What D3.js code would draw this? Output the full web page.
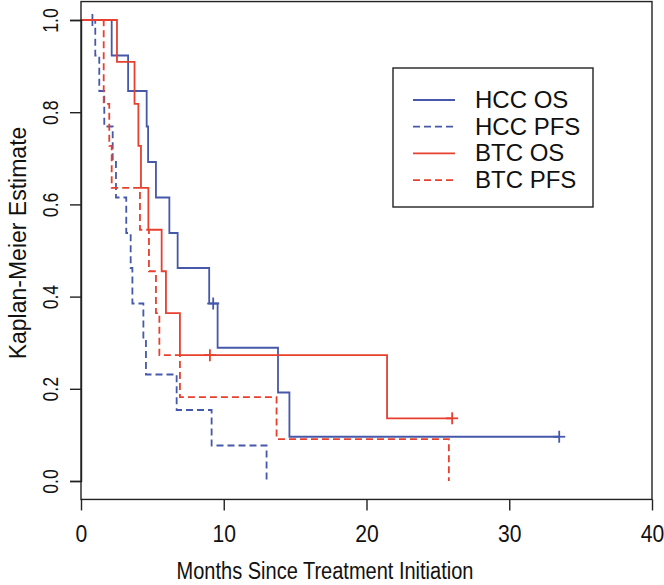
<!DOCTYPE html>
<html><head><meta charset="utf-8">
<script src="https://cdn.jsdelivr.net/npm/d3@7"></script>
<style>body{margin:0;background:#fff} svg{display:block}</style>
</head><body>
<svg id="c" width="664" height="585"></svg>
<script>
// ---- data ----
const seriesNames = ["HCC OS", "HCC PFS", "BTC OS", "BTC PFS"];

const hccOsTimes  = [2.15, 3.3, 4.6, 4.7, 5.25, 6.19, 6.77, 8.98, 9.57, 13.8, 14.6];
const hccOsSurv   = [0.923, 0.846, 0.769, 0.692, 0.615, 0.538, 0.462, 0.385, 0.289, 0.192, 0.096];
const hccOsCensor = [9.26, 33.5];

const hccPfsTimes  = [1.0, 1.28, 1.63, 2.22, 2.45, 3.17, 3.48, 3.6, 4.37, 4.55, 6.7, 9.15, 13.0];
const hccPfsSurv   = [0.923, 0.846, 0.769, 0.692, 0.615, 0.538, 0.462, 0.385, 0.308, 0.231, 0.154, 0.077, 0];
const hccPfsCensor = [0.8];

const btcOsTimes  = [2.52, 3.75, 4.02, 4.2, 4.72, 5.65, 5.95, 6.93, 21.44];
const btcOsSurv   = [0.909, 0.818, 0.727, 0.636, 0.545, 0.455, 0.364, 0.273, 0.136];
const btcOsCensor = [9.03, 26.0];

const btcPfsTimes  = [1.59, 1.98, 2.15, 4.13, 4.76, 5.25, 5.49, 6.93, 13.7, 25.77];
const btcPfsSurv   = [0.818, 0.727, 0.636, 0.545, 0.455, 0.364, 0.273, 0.182, 0.091, 0];
const btcPfsCensor = [];

const xTicks = [0, 10, 20, 30, 40];
const yTicks = [0, 0.2, 0.4, 0.6, 0.8, 1.0];
const xTitle = "Months Since Treatment Initiation";
const yTitle = "Kaplan-Meier Estimate";

// ---- drawing ----
const BLUE = "#4658aa", RED = "#e8402f";
const series = [
  {name: seriesNames[0], t: hccOsTimes,  s: hccOsSurv,  c: hccOsCensor,  color: BLUE, dash: null},
  {name: seriesNames[1], t: hccPfsTimes, s: hccPfsSurv, c: hccPfsCensor, color: BLUE, dash: "7,4"},
  {name: seriesNames[2], t: btcOsTimes,  s: btcOsSurv,  c: btcOsCensor,  color: RED,  dash: null},
  {name: seriesNames[3], t: btcPfsTimes, s: btcPfsSurv, c: btcPfsCensor, color: RED,  dash: "7,4"}
];

const svg = d3.select("#c");
const x = d3.scaleLinear().domain([0, 40]).range([81, 652]);
const y = d3.scaleLinear().domain([0, 1]).range([481, 20]);
const font = "Liberation Sans, Arial, sans-serif";

function survAt(sr, t) {
  let v = 1;
  for (let i = 0; i < sr.t.length; i++) if (sr.t[i] <= t) v = sr.s[i];
  return v;
}

series.forEach(sr => {
  const pts = [[0, 1]];
  sr.t.forEach((tt, i) => pts.push([tt, sr.s[i]]));
  const lastEvent = sr.t[sr.t.length - 1];
  const end = Math.max(lastEvent, ...(sr.c.length ? sr.c : [0]));
  if (end > lastEvent) pts.push([end, sr.s[sr.s.length - 1]]);
  const line = d3.line().x(d => x(d[0])).y(d => y(d[1])).curve(d3.curveStepAfter);
  svg.append("path").attr("d", line(pts))
    .attr("fill", "none").attr("stroke", sr.color).attr("stroke-width", 1.8)
    .attr("stroke-dasharray", sr.dash);
  sr.c.forEach(ct => {
    const cx = x(ct), cy = y(survAt(sr, ct));
    svg.append("line").attr("x1", cx).attr("x2", cx).attr("y1", cy - 6).attr("y2", cy + 6)
      .attr("stroke", sr.color).attr("stroke-width", 1.8);
    svg.append("line").attr("x1", cx - 6).attr("x2", cx + 6).attr("y1", cy).attr("y2", cy)
      .attr("stroke", sr.color).attr("stroke-width", 1.8);
  });
});

// box
const y0 = y(-0.04), y1 = y(1.04);
svg.append("rect").attr("x", x(0)).attr("y", y1).attr("width", x(40) - x(0)).attr("height", y0 - y1)
  .attr("fill", "none").attr("stroke", "#222").attr("stroke-width", 1.4);

// x axis
const xAxis = svg.append("g").attr("transform", `translate(0,${y0})`)
  .call(d3.axisBottom(x).tickValues(xTicks).tickSize(11).tickFormat(d3.format("d")));
xAxis.select(".domain").remove();
xAxis.selectAll("line").attr("stroke", "#222").attr("stroke-width", 1.4);
xAxis.selectAll(".tick text").attr("font-family", font).attr("font-size", 23).attr("fill", "#111")
  .attr("y", null).attr("dy", null)
  .attr("transform", "translate(0,43) scale(0.92,1)");

// y axis
const yAxis = svg.append("g").attr("transform", `translate(${x(0)},0)`)
  .call(d3.axisLeft(y).tickValues(yTicks).tickSize(11).tickFormat(d3.format(".1f")));
yAxis.select(".domain").attr("stroke", "#222").attr("stroke-width", 1.4);
yAxis.selectAll("line").attr("stroke", "#222").attr("stroke-width", 1.4);
yAxis.selectAll(".tick text").attr("font-family", font).attr("font-size", 22).attr("fill", "#111")
  .attr("x", null).attr("dy", null)
  .attr("text-anchor", "middle")
  .attr("transform", "translate(-23,0) rotate(-90) scale(0.8,1)");

// titles
svg.append("text").attr("transform", "translate(325,579) scale(0.87,1)").attr("text-anchor", "middle")
  .attr("font-family", font).attr("font-size", 23).attr("fill", "#111").text(xTitle);
svg.append("text").attr("transform", "translate(26,243) rotate(-90)").attr("text-anchor", "middle")
  .attr("font-family", font).attr("font-size", 23).attr("fill", "#111").text(yTitle);

// legend
const lg = svg.append("g");
lg.append("rect").attr("x", 393).attr("y", 68).attr("width", 200).attr("height", 139)
  .attr("fill", "#fff").attr("stroke", "#222").attr("stroke-width", 1.4);
series.forEach((sr, i) => {
  const ly = 100 + i * 26.7;
  lg.append("line").attr("x1", 413).attr("x2", 455).attr("y1", ly).attr("y2", ly)
    .attr("stroke", sr.color).attr("stroke-width", 1.8).attr("stroke-dasharray", sr.dash);
  lg.append("text").attr("x", 475).attr("y", ly + 8).attr("font-family", font).attr("font-size", 24)
    .attr("fill", "#111").text(sr.name);
});
</script>
</body></html>
